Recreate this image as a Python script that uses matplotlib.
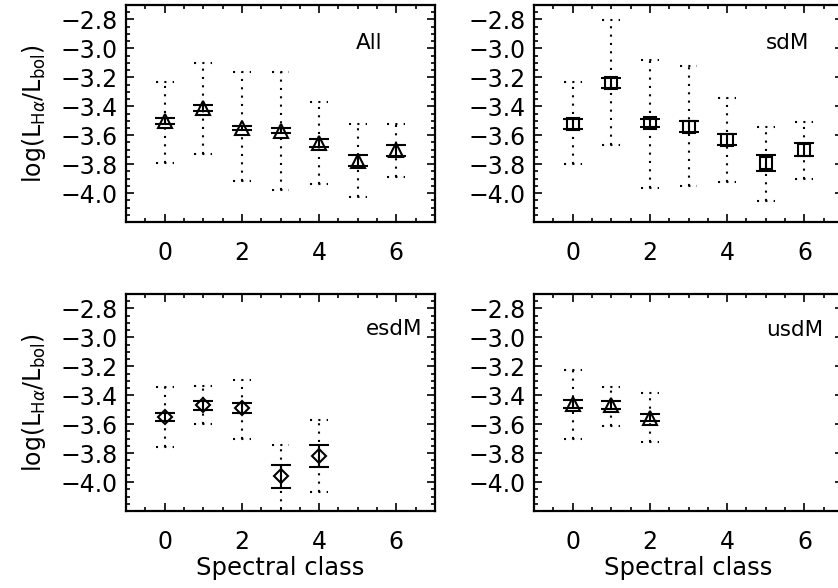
import matplotlib
matplotlib.use("Agg")
import matplotlib.pyplot as plt
import numpy as np
from matplotlib.ticker import MultipleLocator

plt.rcParams['font.family'] = ['DejaVu Sans']
plt.rcParams['mathtext.fontset'] = 'dejavusans'

# spectral subclasses
spec = [0, 1, 2, 3, 4, 5, 6]

# All
all_mean = [-3.50, -3.41, -3.55, -3.57, -3.655, -3.775, -3.705]
all_se = [0.02, 0.02, 0.015, 0.018, 0.03, 0.035, 0.04]
all_hi = [-3.23, -3.10, -3.16, -3.16, -3.37, -3.52, -3.52]
all_lo = [-3.79, -3.73, -3.92, -3.98, -3.94, -4.03, -3.89]

# sdM
sdm_mean = [-3.52, -3.24, -3.515, -3.54, -3.63, -3.795, -3.70]
sdm_se = [0.035, 0.035, 0.03, 0.035, 0.035, 0.055, 0.045]
sdm_hi = [-3.23, -2.805, -3.08, -3.12, -3.34, -3.54, -3.51]
sdm_lo = [-3.80, -3.665, -3.965, -3.95, -3.925, -4.055, -3.90]

# esdM
esdm_mean = [-3.55, -3.47, -3.49, -3.96, -3.82]
esdm_se = [0.027, 0.03, 0.035, 0.08, 0.073]
esdm_hi = [-3.34, -3.335, -3.295, -3.745, -3.57]
esdm_lo = [-3.76, -3.60, -3.70, -4.25, -4.07]

# usdM
usdm_mean = [-3.46, -3.47, -3.555]
usdm_se = [0.027, 0.028, 0.025]
usdm_hi = [-3.225, -3.34, -3.385]
usdm_lo = [-3.70, -3.61, -3.72]

yticks = [-2.8, -3.0, -3.2, -3.4, -3.6, -3.8, -4.0]
ytick_labels = ['\u22122.8', '\u22123.0', '\u22123.2', '\u22123.4', '\u22123.6', '\u22123.8', '\u22124.0']
xticks = [0, 2, 4, 6]

panels = [
    ("All", all_mean, all_se, all_hi, all_lo, '^', 10, (4.95, -2.96)),
    ("sdM", sdm_mean, sdm_se, sdm_hi, sdm_lo, 's', 9, (5.0, -2.96)),
    ("esdM", esdm_mean, esdm_se, esdm_hi, esdm_lo, 'D', 7.5, (5.2, -2.94)),
    ("usdM", usdm_mean, usdm_se, usdm_hi, usdm_lo, '^', 10, (5.0, -2.95)),
]

W, H = 838, 588
fig = plt.figure(figsize=(W / 100, H / 100), dpi=100)
boxes = [(126, 5), (534, 5), (126, 294), (534, 294)]
pw, ph = 309, 217

dot = (0, (1, 3))
capw = 0.23

for i, (name, mean, se, hi, lo, mk, ms, tpos) in enumerate(panels):
    x0, y0 = boxes[i]
    ax = fig.add_axes([x0 / W, 1 - (y0 + ph) / H, pw / W, ph / H])
    x = np.array(spec[:len(mean)])
    hi = np.array(hi)
    lo = np.array(lo)
    # dotted spread bars
    ax.vlines(x, lo, hi, colors='k', linestyles=dot, lw=1.5, zorder=1)
    ax.hlines(hi, x - capw, x + capw, colors='k', linestyles=dot, lw=1.5, zorder=1)
    ax.hlines(lo, x - capw, x + capw, colors='k', linestyles=dot, lw=1.5, zorder=1)
    # solid error of the mean
    ax.errorbar(x, mean, yerr=se, fmt='none', ecolor='k', elinewidth=1.5,
                capsize=7.5, capthick=1.5, zorder=2)
    ax.plot(x, mean, ls='none', marker=mk, ms=ms, mfc='none', mec='k',
            mew=1.5, zorder=3)

    ax.text(tpos[0], tpos[1], name, ha='left', va='center', fontsize=15.5)

    ax.set_xlim(-1, 7)
    ax.set_ylim(-4.2, -2.7)
    ax.set_xticks(xticks)
    ax.xaxis.set_minor_locator(MultipleLocator(0.5))
    ax.set_yticks(yticks, ytick_labels)
    ax.yaxis.set_minor_locator(MultipleLocator(0.05))
    ax.tick_params(which='both', direction='in', top=True, right=True,
                   width=1.2, labelsize=17)
    ax.tick_params(which='major', length=5.5)
    ax.tick_params(which='minor', length=3)
    ax.tick_params(axis='x', which='major', pad=14)
    ax.tick_params(axis='y', which='major', pad=6)
    for s in ax.spines.values():
        s.set_linewidth(1.6)

    if i % 2 == 0:
        ax.set_ylabel(r'log(L$_{\mathrm{H}\alpha}$/L$_{\mathrm{bol}}$)',
                      fontsize=17, labelpad=9)
    if i >= 2:
        ax.set_xlabel('Spectral class', fontsize=17.5, labelpad=1)

fig.savefig('out.png', dpi=100)
